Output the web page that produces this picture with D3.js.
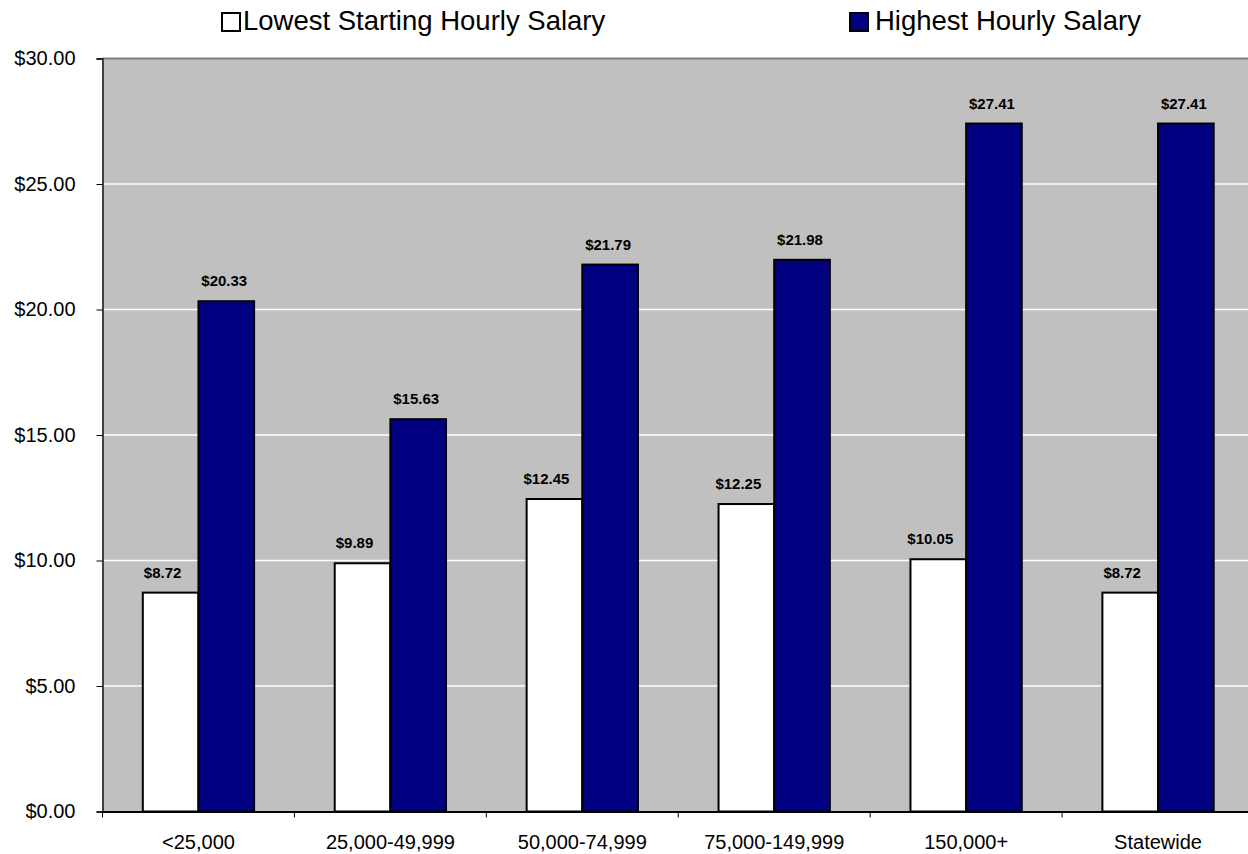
<!DOCTYPE html>
<html>
<head>
<meta charset="utf-8">
<script src="https://cdn.jsdelivr.net/npm/d3@7"></script>
<style>
  body { margin: 0; background: #fff; }
  svg { display: block; font-family: Arial, "Liberation Sans", sans-serif; }
</style>
</head>
<body>
<svg id="vis" width="1248" height="854"></svg>
<script>
var categories = ["<25,000", "25,000-49,999", "50,000-74,999", "75,000-149,999", "150,000+", "Statewide"];
var lowestSalary = [8.72, 9.89, 12.45, 12.25, 10.05, 8.72];
var highestSalary = [20.33, 15.63, 21.79, 21.98, 27.41, 27.41];
var seriesNames = ["Lowest Starting Hourly Salary", "Highest Hourly Salary"];
var seriesColors = ["#ffffff", "#000080"];
var yTicks = [0, 5, 10, 15, 20, 25, 30];

var svg = d3.select("#vis");
var plot = {left: 102.5, top: 58.5, right: 1254, bottom: 811.5};

var x = d3.scaleBand()
    .domain(categories)
    .range([plot.left, plot.right])
    .paddingInner(0)
    .paddingOuter(0);

var groupPad = 0.21;
var xs = d3.scaleBand()
    .domain([0, 1])
    .range([x.bandwidth() * groupPad, x.bandwidth() * (1 - groupPad)]);

var y = d3.scaleLinear().domain([0, 30]).range([plot.bottom, plot.top]);

// plot background
svg.append("rect")
    .attr("x", plot.left).attr("y", plot.top)
    .attr("width", plot.right - plot.left).attr("height", plot.bottom - plot.top)
    .attr("fill", "#c0c0c0");

// gridlines
svg.append("g").selectAll("line")
    .data(yTicks.filter(function(d) { return d > 0 && d < 30; }))
    .enter().append("line")
    .attr("x1", plot.left).attr("x2", plot.right)
    .attr("y1", function(d) { return y(d); })
    .attr("y2", function(d) { return y(d); })
    .attr("stroke", "#ffffff")
    .attr("stroke-width", 1.5);

// top border
svg.append("line")
    .attr("x1", plot.left).attr("x2", plot.right)
    .attr("y1", plot.top).attr("y2", plot.top)
    .attr("stroke", "#808080").attr("stroke-width", 2);

// bars
var series = [lowestSalary, highestSalary];
var groups = svg.append("g").selectAll("g")
    .data(categories)
    .enter().append("g")
    .attr("transform", function(d) { return "translate(" + x(d) + ",0)"; });

groups.selectAll("rect")
    .data(function(d, i) { return series.map(function(s, k) { return {k: k, v: s[i]}; }); })
    .enter().append("rect")
    .attr("x", function(d) { return xs(d.k); })
    .attr("width", xs.bandwidth())
    .attr("y", function(d) { return y(d.v); })
    .attr("height", function(d) { return y(0) - y(d.v); })
    .attr("fill", function(d) { return seriesColors[d.k]; })
    .attr("stroke", "#000")
    .attr("stroke-width", 2);

groups.selectAll("text")
    .data(function(d, i) { return series.map(function(s, k) { return {k: k, v: s[i]}; }); })
    .enter().append("text")
    .attr("x", function(d) { return xs(d.k) + xs.bandwidth() / 2 + (d.k === 0 ? -8 : -2); })
    .attr("y", function(d) { return y(d.v) - 15; })
    .attr("text-anchor", "middle")
    .attr("font-size", "15px")
    .attr("font-weight", "bold")
    .attr("fill", "#000")
    .text(function(d) { return "$" + d.v.toFixed(2); });

// y axis
var yAxis = d3.axisLeft(y)
    .tickValues(yTicks)
    .tickSize(6)
    .tickPadding(21)
    .tickFormat(function(d) { return "$" + d.toFixed(2); });

var gy = svg.append("g")
    .attr("transform", "translate(" + plot.left + ",0)")
    .call(yAxis);
gy.select(".domain").attr("stroke", "#404040").attr("stroke-width", 2);
gy.selectAll(".tick line").attr("stroke", "#000");
gy.selectAll(".tick text")
    .attr("font-size", "20px")
    .attr("font-family", "Arial, 'Liberation Sans', sans-serif")
    .attr("fill", "#000");

// x axis
var xAxis = d3.axisBottom(x).tickSize(0).tickPadding(23);
var gx = svg.append("g")
    .attr("transform", "translate(0," + plot.bottom + ")")
    .call(xAxis);
gx.select(".domain").attr("stroke", "#000").attr("stroke-width", 2);
gx.selectAll(".tick text")
    .attr("font-size", "20px")
    .attr("font-family", "Arial, 'Liberation Sans', sans-serif")
    .attr("fill", "#000");

// x category boundary ticks
svg.append("g").selectAll("line")
    .data(categories)
    .enter().append("line")
    .attr("x1", function(d) { return x(d); })
    .attr("x2", function(d) { return x(d); })
    .attr("y1", plot.bottom).attr("y2", plot.bottom + 6)
    .attr("stroke", "#000").attr("stroke-width", 1);

// legend
var legendX = [221, 849];
var legendTextX = [22, 26];
var legend = svg.append("g").selectAll("g")
    .data(seriesNames)
    .enter().append("g")
    .attr("transform", function(d, i) { return "translate(" + legendX[i] + ",12)"; });

legend.append("rect")
    .attr("x", 1).attr("y", 1)
    .attr("width", 18).attr("height", 18)
    .attr("fill", function(d, i) { return seriesColors[i]; })
    .attr("stroke", "#000")
    .attr("stroke-width", 2);

legend.append("text")
    .attr("x", function(d, i) { return legendTextX[i]; })
    .attr("y", 18)
    .attr("font-size", "27.5px")
    .attr("fill", "#000")
    .text(function(d) { return d; });
</script>
</body>
</html>
